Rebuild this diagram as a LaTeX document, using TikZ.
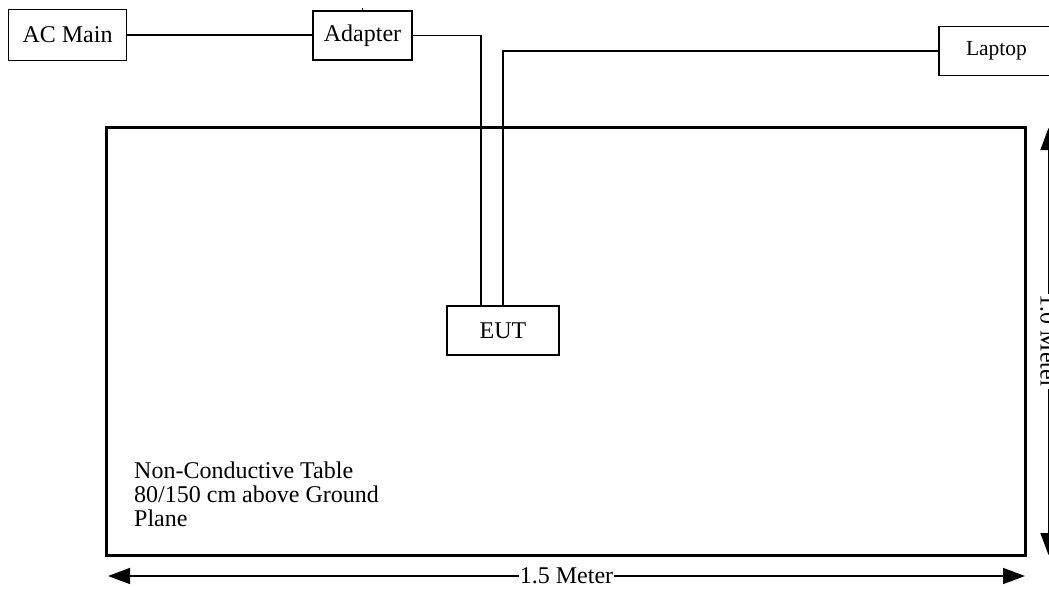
\documentclass[tikz,border=0pt]{standalone}
\usepackage{fontspec}
\setmainfont{Liberation Serif}
\usetikzlibrary{arrows.meta}
\begin{document}
\begin{tikzpicture}[x=1pt,y=-1pt,
  devbox/.style={draw, line width=1.3pt, inner sep=0pt, fill=white, font=\fontsize{24}{24}\selectfont},
  tablebox/.style={draw, line width=3pt, inner sep=0pt},
  mainwire/.style={line width=2.4pt},
  wire/.style={line width=1.6pt},
  thinwire/.style={line width=1.4pt},
  dimarrow/.style={line width=1.5pt, {Triangle[length=22pt,width=16pt]}-{Triangle[length=22pt,width=16pt]}},
  dimlabel/.style={fill=white, inner sep=1pt, font=\fontsize{24}{24}\selectfont},
  note/.style={inner sep=0pt, align=left, font=\fontsize{24}{24}\selectfont}]
\useasboundingbox (0,0) rectangle (1049,589);
% table
\node[tablebox, minimum width=919pt, minimum height=428.3pt] (table) at (566,341.65) {};
\node[note, anchor=base west] (tabletext) at (134,526) {Non-Conductive Table\\80/150 cm above Ground\\Plane};
% devices
\node[devbox, minimum width=118.4pt, minimum height=51.4pt] (acmain) at (67.5,35) {AC Main};
\node[devbox, minimum width=99pt, minimum height=49pt] (adapter) at (362.5,35.5) {Adapter};
\node[devbox, minimum width=115pt, minimum height=49pt, font=\fontsize{21.5}{21.5}\selectfont] (laptop) at (996.5,51) {Laptop};
\node[devbox, minimum width=112pt, minimum height=49pt] (eut) at (503,330.5) {EUT};
% connectors
\draw[mainwire] (acmain.east) -- (acmain.east -| adapter.west);
\draw[line width=1pt] (adapter.north) -- ++(0,-2);
\draw[wire] (adapter.east) -| ([xshift=-22pt]eut.north);
\draw[thinwire] (laptop.west) -| (eut.north);
% dimensions
\coordinate (dimL) at (108,576);
\coordinate (dimR) at (1025,576);
\coordinate (dimT) at (1048.5,128);
\coordinate (dimB) at (1048.5,555);
\draw[dimarrow] (dimL) -- node[dimlabel] (widthlabel) {1.5 Meter} (dimR);
\draw[dimarrow] (dimT) -- node[dimlabel, rotate=-90] (depthlabel) {1.0 Meter} (dimB);
\end{tikzpicture}
\end{document}
